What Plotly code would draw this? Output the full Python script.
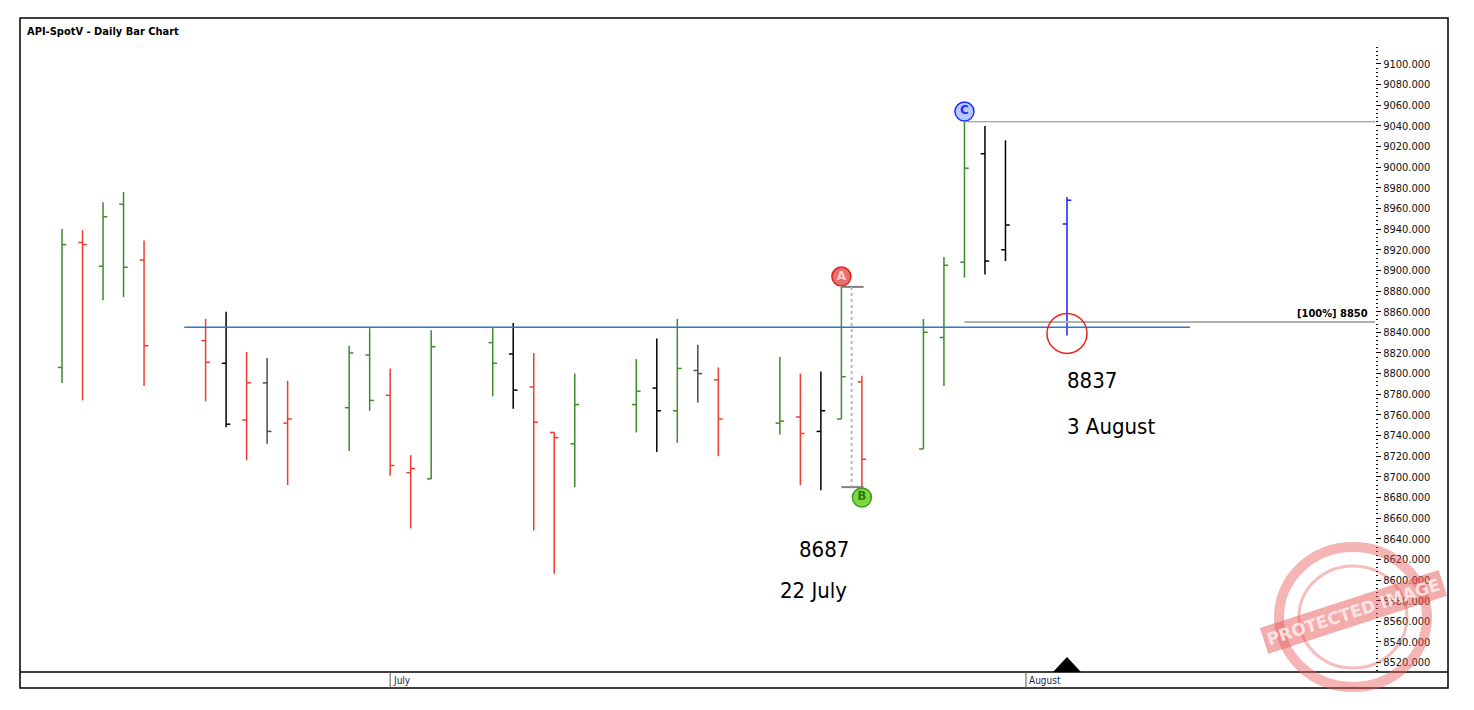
import pandas as pd
import plotly.graph_objects as go

# daily bars
dates = ["2020-06-15", "2020-06-16", "2020-06-17", "2020-06-18", "2020-06-19",
         "2020-06-22", "2020-06-23", "2020-06-24", "2020-06-25", "2020-06-26",
         "2020-06-29", "2020-06-30", "2020-07-01", "2020-07-02", "2020-07-03",
         "2020-07-06", "2020-07-07", "2020-07-08", "2020-07-09", "2020-07-10",
         "2020-07-13", "2020-07-14", "2020-07-15", "2020-07-16", "2020-07-17",
         "2020-07-20", "2020-07-21", "2020-07-22", "2020-07-23", "2020-07-24",
         "2020-07-27", "2020-07-28", "2020-07-29", "2020-07-30", "2020-07-31",
         "2020-08-03"]
opens = [8806, 8927, 8904, 8964, 8910, 8832, 8810, 8755, 8791, 8752,
         8767, 8818, 8779, 8704, 8698, 8830, 8819, 8787, 8743, 8732,
         8770, 8786, 8764, 8803, 8794, 8752, 8758, 8744, 8756, 8792,
         8727, 8835, 8908, 9013, 8920, 8945]
highs = [8940, 8939, 8966, 8976, 8929, 8853, 8860, 8821, 8815, 8793,
         8827, 8844, 8805, 8721, 8842, 8844, 8849, 8820, 8743, 8800,
         8814, 8834, 8853, 8828, 8806, 8816, 8800, 8802, 8884, 8798,
         8853, 8913, 9044, 9040, 9026, 8971]
lows = [8791, 8774, 8871, 8874, 8788, 8773, 8748, 8716, 8732, 8692,
        8725, 8764, 8701, 8650, 8698, 8778, 8766, 8648, 8606, 8690,
        8743, 8724, 8733, 8772, 8720, 8741, 8692, 8687, 8756, 8690,
        8727, 8788, 8893, 8896, 8909, 8837]
closes = [8925, 8925, 8952, 8903, 8827, 8811, 8751, 8791, 8744, 8756,
          8820, 8774, 8711, 8708, 8826, 8810, 8784, 8753, 8738, 8770,
          8783, 8764, 8805, 8800, 8756, 8754, 8742, 8764, 8797, 8717,
          8840, 8905, 8999, 8909, 8944, 8968]
bar_colors = ["g", "r", "g", "g", "r", "r", "k", "r", "d", "r",
              "g", "g", "r", "r", "g", "g", "k", "r", "r", "g",
              "g", "k", "g", "d", "r", "g", "r", "k", "g", "r",
              "g", "g", "g", "k", "k", "b"]

# annotation levels
support_level = 8845
c_level = 9044
target_level = 8850
a_date, b_date, c_date, now_date = "2020-07-23", "2020-07-24", "2020-07-29", "2020-08-03"
a_price, b_price = 8884, 8690
low_note = ("8687", "22 July", "2020-07-22")
now_note = ("8837", "3 August", "2020-08-03")
y_ticks = list(range(8520, 9101, 20))

palette = {"g": "#3c8c28", "r": "#f03c30", "k": "#000000", "d": "#4d4d4d", "b": "#1e1eff"}

# the page body adds 8px around the figure
OFF = 8
FL, FR, FT, FB = 20, 1448, 18, 688      # chart frame in screen pixels
W, H = 1474 - 2 * OFF, 710 - 2 * OFF
ml, mt = FL - OFF, FT - OFF
mr, mb = W + OFF - FR, H + OFF - FB
pw, ph = W - ml - mr, H - mt - mb
x_dom_end = (1375 - FL) / pw
y_bot = (FB - 672) / ph
y_top = (FB - 46) / ph

fig = go.Figure()

half = pd.Timedelta(hours=5)
for key, col in palette.items():
    xs, ys = [], []
    for d, o, h, l, c, k in zip(dates, opens, highs, lows, closes, bar_colors):
        if k != key:
            continue
        t = pd.Timestamp(d)
        xs += [t, t, None, t - half, t, None, t, t + half, None]
        ys += [l, h, None, o, o, None, c, c, None]
    fig.add_trace(go.Scatter(x=xs, y=ys, mode="lines", line=dict(color=col, width=1.5),
                             hoverinfo="skip"))

# A / B / C pivots
pivots = [("A", a_date, a_price + 10, "#e8706a", "#e02020", "#fbd0d0"),
          ("B", b_date, b_price - 10, "#7fd93c", "#3a9a20", "#2a7a10"),
          ("C", c_date, c_level + 10, "#b8c8ff", "#1a30ff", "#1a30ff")]
for lab, d, p, fill, edge, tc in pivots:
    fig.add_trace(go.Scatter(x=[d], y=[p], mode="markers+text", text=["<b>" + lab + "</b>"],
                             textposition="middle center",
                             textfont=dict(family="DejaVu Sans", size=12, color=tc),
                             marker=dict(size=19, color=fill, line=dict(color=edge, width=1.5)),
                             cliponaxis=False, hoverinfo="skip"))

shapes = []
# support line
shapes.append(dict(type="line", xref="x", yref="y", x0="2020-06-20 23:00", x1="2020-08-09",
                   y0=support_level, y1=support_level, line=dict(color="#2a7ac8", width=1.5)))
# C high and 100% target
shapes.append(dict(type="line", xref="x", yref="y", x0=c_date, x1="2020-08-18 00:25",
                   y0=c_level, y1=c_level, line=dict(color="#888888", width=1)))
shapes.append(dict(type="line", xref="x", yref="y", x0=c_date, x1="2020-08-18 00:25",
                   y0=target_level, y1=target_level, line=dict(color="#b0b0b0", width=2)))
# AB measure
for p in (a_price, b_price):
    shapes.append(dict(type="line", xref="x", yref="y", x0=a_date, x1="2020-07-24 02:00",
                       y0=p, y1=p, line=dict(color="#808080", width=2)))
shapes.append(dict(type="line", xref="x", yref="y", x0="2020-07-23 12:00", x1="2020-07-23 12:00",
                   y0=a_price, y1=b_price, line=dict(color="#b8b8b8", width=2, dash="dot")))
# red circle at the current low
shapes.append(dict(type="circle", xref="x", yref="y", xsizemode="pixel", ysizemode="pixel",
                   xanchor=now_date, yanchor=lows[-1], x0=-20, x1=20, y0=-18, y1=22,
                   line=dict(color="#e8231a", width=1.5)))
# current bar marker on the time axis
shapes.append(dict(type="path", xref="x", yref="paper", xsizemode="pixel", ysizemode="pixel",
                   xanchor=now_date, yanchor=y_bot, path="M-14,0 L14,0 L0,15 Z",
                   fillcolor="#000000", line=dict(width=0)))
# frame and time strip
shapes.append(dict(type="rect", xref="paper", yref="paper", x0=0, x1=1, y0=0, y1=1,
                   line=dict(color="#000000", width=1.5)))
shapes.append(dict(type="line", xref="paper", yref="paper", x0=0, x1=1, y0=y_bot, y1=y_bot,
                   line=dict(color="#000000", width=1.5)))
for d in ("2020-07-01", "2020-08-01"):
    shapes.append(dict(type="line", xref="x", yref="paper", x0=d, x1=d, y0=0, y1=y_bot,
                       line=dict(color="#555555", width=1)))
# watermark stamp
wx, wy = (1353 - FL) / pw, (FB - 617) / ph
shapes.append(dict(type="circle", xref="paper", yref="paper", xsizemode="pixel", ysizemode="pixel",
                   xanchor=wx, yanchor=wy, x0=-74, x1=74, y0=-70, y1=70,
                   line=dict(color="rgba(232,90,90,0.45)", width=10)))
shapes.append(dict(type="circle", xref="paper", yref="paper", xsizemode="pixel", ysizemode="pixel",
                   xanchor=wx, yanchor=wy, x0=-54, x1=54, y0=-51, y1=51,
                   line=dict(color="rgba(232,90,90,0.4)", width=3)))

annots = []
annots.append(dict(xref="paper", yref="paper", x=5 / pw, y=(FB - 31) / ph, xanchor="left",
                   yanchor="middle", showarrow=False, text="<b>API-SpotV - Daily Bar Chart</b>",
                   font=dict(family="DejaVu Sans Condensed", size=11, color="#000000")))
annots.append(dict(xref="paper", yref="y", x=(1370 - FL) / pw, y=target_level, xanchor="right",
                   yanchor="middle", yshift=9, showarrow=False, text="<b>[100%] 8850</b>",
                   font=dict(family="DejaVu Sans Condensed", size=11, color="#000000")))
big = dict(family="DejaVu Sans Condensed", size=22, color="#000000")
annots.append(dict(xref="x", yref="y", x=low_note[2], y=8630, xshift=3, showarrow=False,
                   text=low_note[0], font=big))
annots.append(dict(xref="x", yref="y", x=low_note[2], y=8590, xshift=-7, showarrow=False,
                   text=low_note[1], font=big))
annots.append(dict(xref="x", yref="y", x=now_note[2], y=8793, xanchor="left", xshift=-2,
                   showarrow=False, text=now_note[0], font=big))
annots.append(dict(xref="x", yref="y", x=now_note[2], y=8749, xanchor="left", xshift=-2,
                   showarrow=False, text=now_note[1], font=big))
for d, lab in (("2020-07-01", "July"), ("2020-08-01", "August")):
    annots.append(dict(xref="x", yref="paper", x=d, y=y_bot / 2, xanchor="left", yanchor="middle",
                       xshift=1, showarrow=False, text=lab,
                       font=dict(family="DejaVu Sans Condensed", size=10, color="#202060")))
annots.append(dict(xref="paper", yref="paper", x=wx, y=wy + 5 / ph, xanchor="center",
                   yanchor="middle", showarrow=False, textangle=-18,
                   text="<b>PROTECTED IMAGE</b>", bgcolor="rgba(232,90,90,0.5)", borderpad=3,
                   font=dict(family="DejaVu Sans", size=17, color="rgba(255,235,235,0.9)")))

fig.update_layout(
    width=W, height=H, autosize=False,
    margin=dict(l=ml, r=mr, t=mt, b=mb),
    paper_bgcolor="#ffffff", plot_bgcolor="#ffffff",
    showlegend=False, shapes=shapes, annotations=annots,
    xaxis=dict(type="date", domain=[0, x_dom_end], range=["2020-06-12 22:50", "2020-08-18 00:25"],
               showgrid=False, zeroline=False, showticklabels=False, ticks="", showline=False),
    yaxis=dict(domain=[y_bot, y_top], range=[8510.9, 9117.4], side="right",
               tickvals=y_ticks, ticktext=[f"{v:.3f}" for v in y_ticks],
               ticks="outside", ticklen=5, tickcolor="#000000", showgrid=False, zeroline=False,
               showline=False, tickfont=dict(family="DejaVu Sans Condensed", size=11, color="#111111"),
               minor=dict(dtick=4, tick0=8520, ticks="outside", ticklen=2, tickcolor="#000000",
                          showgrid=False)),
)

fig.write_html("out.html")
